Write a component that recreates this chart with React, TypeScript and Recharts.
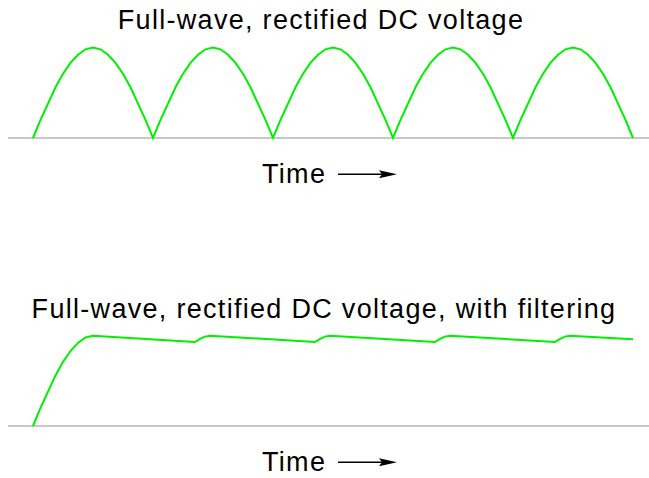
import { LineChart, Line, XAxis, YAxis, ReferenceLine } from 'recharts';

// Top panel: full-wave rectified sine, five half-cycles (time in arbitrary units)
const rectTime = [
  0, 7.5, 15, 22.5, 30, 37.5, 45, 52.5, 60, 67.5, 75, 82.5, 90, 97.5, 105, 112.5,
  120, 127.5, 135, 142.5, 150, 157.5, 165, 172.5, 180, 187.5, 195, 202.5, 210, 217.5, 225, 232.5,
  240, 247.5, 255, 262.5, 270, 277.5, 285, 292.5, 300, 307.5, 315, 322.5, 330, 337.5, 345, 352.5,
  360, 367.5, 375, 382.5, 390, 397.5, 405, 412.5, 420, 427.5, 435, 442.5, 450, 457.5, 465, 472.5,
  480, 487.5, 495, 502.5, 510, 517.5, 525, 532.5, 540, 547.5, 555, 562.5, 570, 577.5, 585, 592.5,
  600,
];
const rectVolts = [
  0, 0.2, 0.38, 0.56, 0.71, 0.83, 0.92, 0.98, 1, 0.98, 0.92, 0.83, 0.71, 0.56, 0.38, 0.2,
  0, 0.2, 0.38, 0.56, 0.71, 0.83, 0.92, 0.98, 1, 0.98, 0.92, 0.83, 0.71, 0.56, 0.38, 0.2,
  0, 0.2, 0.38, 0.56, 0.71, 0.83, 0.92, 0.98, 1, 0.98, 0.92, 0.83, 0.71, 0.56, 0.38, 0.2,
  0, 0.2, 0.38, 0.56, 0.71, 0.83, 0.92, 0.98, 1, 0.98, 0.92, 0.83, 0.71, 0.56, 0.38, 0.2,
  0, 0.2, 0.38, 0.56, 0.71, 0.83, 0.92, 0.98, 1, 0.98, 0.92, 0.83, 0.71, 0.56, 0.38, 0.2,
  0,
];

// Bottom panel: same signal after the filter capacitor (ripple)
const filteredTime = [
  0, 7.5, 15, 22.5, 30, 37.5, 45, 52.5, 60,
  162, 167, 172, 177,
  282, 287, 292, 297,
  402, 407, 412, 417,
  522, 527, 532, 537,
  600,
];
const filteredVolts = [
  0, 0.2, 0.38, 0.56, 0.71, 0.83, 0.92, 0.98, 1,
  0.93, 0.965, 0.99, 1,
  0.93, 0.965, 0.99, 1,
  0.93, 0.965, 0.99, 1,
  0.93, 0.965, 0.99, 1,
  0.96,
];

const titles = ['Full-wave, rectified DC voltage', 'Full-wave, rectified DC voltage, with filtering'];
const axisLabel = 'Time';

const rectData = rectTime.map((t, i) => ({ t, v: rectVolts[i] }));
const filteredData = filteredTime.map((t, i) => ({ t, v: filteredVolts[i] }));

const GREEN = '#00f000';
const GRID = '#c8c8c8';
const FONT = '"Liberation Sans", Arial, Helvetica, sans-serif';
const textStyle = { fontSize: 27, fontFamily: FONT, letterSpacing: '1.3px' };

function Panel({ data, top, height, margin }: { data: { t: number; v: number }[]; top: number; height: number; margin: any }) {
  return (
    <div style={{ position: 'absolute', left: 0, top }}>
      <LineChart width={649} height={height} data={data} margin={margin}>
        <XAxis dataKey="t" type="number" domain={[-25, 616]} hide />
        <YAxis type="number" domain={[0, 1]} hide />
        <ReferenceLine y={0} stroke={GRID} strokeWidth={2} />
        <Line
          dataKey="v"
          type="linear"
          stroke={GREEN}
          strokeWidth={2}
          dot={false}
          isAnimationActive={false}
        />
      </LineChart>
    </div>
  );
}

function TimeArrow({ y }: { y: number }) {
  return (
    <g>
      <text x={262} y={y + 8.5} style={textStyle} fill="#000">
        {axisLabel}
      </text>
      <line x1={338} y1={y} x2={384} y2={y} stroke="#000" strokeWidth={1.5} />
      <polygon points={`397,${y} 379,${y - 4} 382,${y} 379,${y + 4}`} fill="#000" />
    </g>
  );
}

export default function App() {
  return (
    <div style={{ position: 'absolute', left: 0, top: 0, width: 649, height: 478, background: '#fff' }}>
      <Panel data={rectData} top={0} height={240} margin={{ top: 47.5, right: 0, bottom: 102, left: 8 }} />
      <Panel data={filteredData} top={240} height={238} margin={{ top: 95.7, right: 0, bottom: 52, left: 8 }} />
      <svg width={649} height={478} style={{ position: 'absolute', left: 0, top: 0, pointerEvents: 'none' }}>
        <text x={321} y={29} textAnchor="middle" style={textStyle} fill="#000">
          {titles[0]}
        </text>
        <TimeArrow y={174.3} />
        <text x={324} y={317.5} textAnchor="middle" style={textStyle} fill="#000">
          {titles[1]}
        </text>
        <TimeArrow y={462.3} />
      </svg>
    </div>
  );
}
